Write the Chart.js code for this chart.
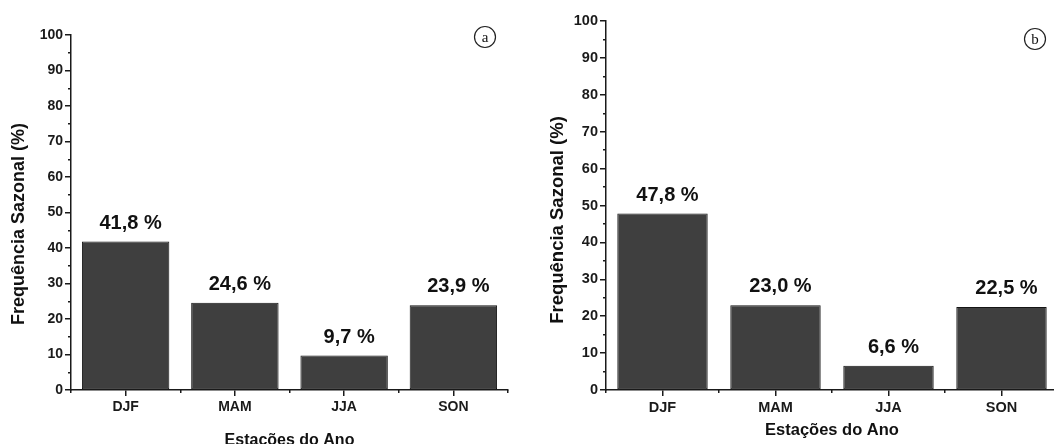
<!DOCTYPE html>
<html>
<head>
<meta charset="utf-8">
<script src="https://cdn.jsdelivr.net/npm/chart.js@4.4.1/dist/chart.umd.min.js"></script>
<style>
  html, body { margin: 0; padding: 0; background: #fff; overflow: hidden; }
  #wrap { position: relative; width: 1054px; height: 444px; overflow: hidden; }
  .box { position: absolute; top: 0; height: 444px; }
</style>
</head>
<body>
<div id="wrap">
  <div class="box" style="left:0;width:527px"><canvas id="chart_a" width="527" height="444"></canvas></div>
  <div class="box" style="left:527px;width:540px"><canvas id="chart_b" width="540" height="444"></canvas></div>
</div>
<script>
// dados
const seasons = ["DJF", "MAM", "JJA", "SON"];
const freqA = [41.8, 24.6, 9.7, 23.9];
const freqB = [47.8, 23.0, 6.6, 22.5];
const yTicks = [0, 10, 20, 30, 40, 50, 60, 70, 80, 90, 100];
const yMinorTicks = [5, 15, 25, 35, 45, 55, 65, 75, 85, 95];

const SANS = "'Liberation Sans', Arial, sans-serif";
const INK = "#1a1a1a";
Chart.defaults.font.family = SANS;
Chart.defaults.color = INK;

const fmt = (v) => v.toFixed(1).replace(".", ",") + " %";

/**
 * rótulos de valor, títulos dos eixos e letra do painel
 */
const extrasPlugin = {
  id: "extras",
  afterDatasetsDraw(chart, args, o) {
    const ctx = chart.ctx;
    const meta = chart.getDatasetMeta(0);
    const values = chart.data.datasets[0].data;
    ctx.save();
    ctx.fillStyle = "#111";
    ctx.font = "bold 20px " + SANS;
    ctx.textAlign = "center";
    ctx.textBaseline = "alphabetic";
    meta.data.forEach((bar, i) => {
      ctx.fillText(fmt(values[i]), bar.x + 5, bar.y - 13);
    });
    ctx.restore();
  },
  afterDraw(chart, args, o) {
    const ctx = chart.ctx;
    const area = chart.chartArea;
    ctx.save();
    ctx.fillStyle = "#111";
    // eixo y
    ctx.font = "bold " + o.yTitleSize + "px " + SANS;
    ctx.textAlign = "center";
    ctx.textBaseline = "alphabetic";
    ctx.translate(o.yTitleX, o.yTitleY);
    ctx.rotate(-Math.PI / 2);
    ctx.fillText("Frequência Sazonal (%)", 0, 0);
    ctx.restore();

    ctx.save();
    ctx.fillStyle = "#111";
    ctx.font = "bold " + o.xTitleSize + "px " + SANS;
    ctx.textAlign = "center";
    ctx.textBaseline = "alphabetic";
    ctx.fillText("Estações do Ano", (area.left + area.right) / 2, o.xTitleY);

    // letra do painel
    ctx.beginPath();
    ctx.arc(o.letterX, o.letterY, 10.5, 0, Math.PI * 2);
    ctx.strokeStyle = "#222";
    ctx.lineWidth = 1.2;
    ctx.stroke();
    ctx.font = "15px 'Liberation Serif', 'DejaVu Serif', serif";
    ctx.textBaseline = "middle";
    ctx.fillText(o.letter, o.letterX, o.letterY + 1);
    ctx.restore();
  },
};

const makeChart = (id, values, cfg) => {
  const ctx = document.getElementById(id).getContext("2d");
  return new Chart(ctx, {
    type: "bar",
    data: {
      labels: seasons,
      datasets: [
        {
          data: values,
          backgroundColor: "#3f3f3f",
          borderColor: "#151515",
          borderWidth: 1,
          borderSkipped: false,
          categoryPercentage: 1,
          barPercentage: 0.8,
          xAxisID: "x",
          yAxisID: "y",
        },
      ],
    },
    options: {
      responsive: false,
      animation: false,
      events: [],
      layout: {
        padding: { left: 0, right: cfg.padRight, top: cfg.padTop, bottom: 0 },
      },
      plugins: {
        legend: { display: false },
        tooltip: { enabled: false },
        extras: cfg.extras,
      },
      scales: {
        x: {
          type: "category",
          position: "bottom",
          weight: 1,
          offset: true,
          grid: {
            offset: false,
            drawOnChartArea: false,
            tickLength: 6,
            color: INK,
            lineWidth: 1.5,
          },
          border: { display: true, color: INK, width: 1.5 },
          ticks: {
            font: { size: cfg.tickSize, weight: "bold" },
            color: INK,
            padding: 3,
          },
          afterFit: (scale) => {
            scale.height = 444 - cfg.bottom;
          },
        },
        xMinor: {
          type: "category",
          position: "bottom",
          weight: 0,
          offset: true,
          grid: {
            offset: true,
            drawOnChartArea: false,
            tickLength: 3,
            color: INK,
            lineWidth: 1.5,
          },
          border: { display: false },
          ticks: { display: false },
          afterFit: (scale) => {
            scale.height = 0;
          },
        },
        y: {
          position: "left",
          weight: 1,
          min: 0,
          max: 100,
          afterBuildTicks: (scale) => {
            scale.ticks = yTicks.map((v) => ({ value: v }));
          },
          grid: {
            drawOnChartArea: false,
            tickLength: 6,
            color: INK,
            lineWidth: 1.5,
          },
          border: { display: true, color: INK, width: 1.5 },
          ticks: {
            font: { size: cfg.tickSize, weight: "bold" },
            color: INK,
            padding: 2,
          },
          afterFit: (scale) => {
            scale.width = cfg.left;
          },
        },
        yMinor: {
          position: "left",
          weight: 0,
          min: 0,
          max: 100,
          afterBuildTicks: (scale) => {
            scale.ticks = yMinorTicks.map((v) => ({ value: v }));
          },
          grid: {
            drawOnChartArea: false,
            tickLength: 3,
            color: INK,
            lineWidth: 1.5,
          },
          border: { display: false },
          ticks: { display: false },
          afterFit: (scale) => {
            scale.width = 0;
          },
        },
      },
    },
    plugins: [extrasPlugin],
  });
};

makeChart("chart_a", freqA, {
  left: 71,
  padRight: 19,
  padTop: 35,
  bottom: 390,
  tickSize: 14,
  extras: {
    yTitleX: 24, yTitleY: 224, yTitleSize: 18,
    xTitleY: 445, xTitleSize: 16,
    letter: "a", letterX: 485, letterY: 37,
  },
});

makeChart("chart_b", freqB, {
  left: 79,
  padRight: 9,
  padTop: 21,
  bottom: 390,
  tickSize: 14.5,
  extras: {
    yTitleX: 36, yTitleY: 220, yTitleSize: 18.5,
    xTitleY: 435, xTitleSize: 16.5,
    letter: "b", letterX: 508, letterY: 39,
  },
});
</script>
</body>
</html>
